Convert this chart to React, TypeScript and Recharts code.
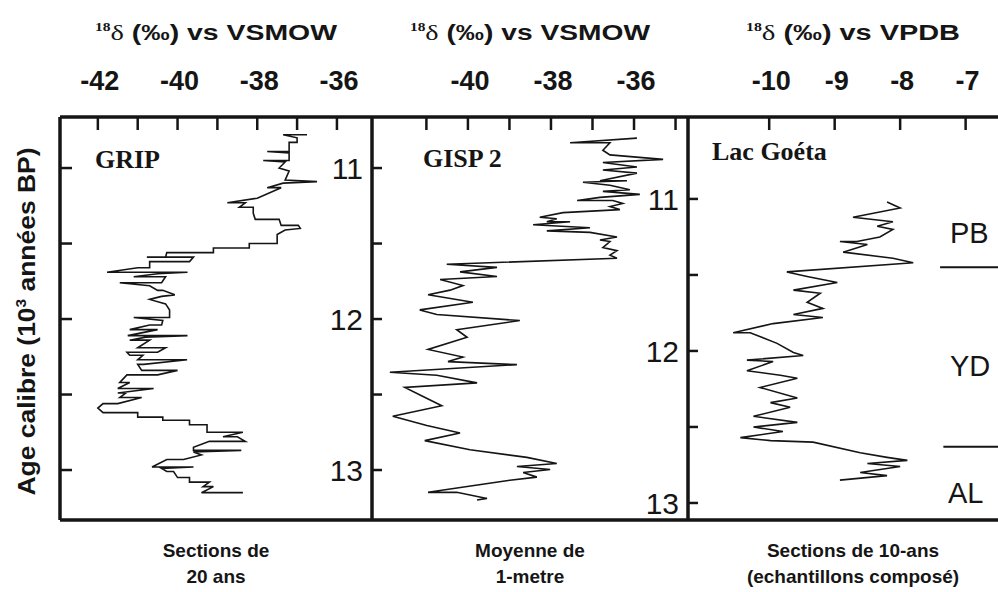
import React from 'react';
import { ScatterChart, Scatter, XAxis, YAxis, ReferenceLine } from 'recharts';

// GRIP, sections of 20 years (ages in 10^3 yr BP, d18O vs VSMOW)
const gripAge = [
  10.78, 10.78, 10.8, 10.83, 10.83, 10.89, 10.89, 10.9, 10.95, 10.95,
  10.96, 11.0, 11.02, 11.08, 11.09, 11.1, 11.13, 11.13, 11.2, 11.23,
  11.23, 11.26, 11.26, 11.3, 11.34, 11.34, 11.38, 11.38, 11.4, 11.41,
  11.44, 11.5, 11.5, 11.53, 11.53, 11.56, 11.56, 11.59, 11.59, 11.59,
  11.62, 11.62, 11.66, 11.66, 11.69, 11.69, 11.7, 11.72, 11.72, 11.76,
  11.76, 11.78, 11.81, 11.81, 11.84, 11.85, 11.87, 11.9, 11.94, 11.99,
  11.99, 12.01, 12.04, 12.04, 12.07, 12.07, 12.11, 12.11, 12.12, 12.14,
  12.14, 12.19, 12.19, 12.22, 12.22, 12.24, 12.24, 12.27, 12.27, 12.3,
  12.3, 12.34, 12.34, 12.37, 12.37, 12.42, 12.42, 12.46, 12.46, 12.49,
  12.49, 12.52, 12.52, 12.56, 12.56, 12.59, 12.62, 12.62, 12.65, 12.65,
  12.67, 12.67, 12.7, 12.7, 12.75, 12.75, 12.78, 12.78, 12.81, 12.81,
  12.85, 12.87, 12.87, 12.88, 12.9, 12.93, 12.93, 12.98, 12.98, 12.99,
  13.01, 13.01, 13.05, 13.05, 13.08, 13.08, 13.11, 13.11, 13.15, 13.15,
];
const gripD18O = [
  -36.75, -37.35, -37.0, -37.0, -37.2, -37.2, -37.75, -37.2, -37.2, -37.85,
  -37.3, -37.45, -37.2, -37.3, -36.5, -37.35, -37.75, -37.4, -38.0, -38.75,
  -38.3, -38.45, -38.1, -38.1, -38.05, -37.45, -37.4, -36.97, -36.92, -37.3,
  -37.5, -37.5, -38.2, -38.2, -39.1, -39.1, -40.27, -40.3, -40.77, -39.6,
  -39.7, -40.7, -40.7, -41.0, -41.77, -39.75, -40.5, -41.1, -40.3, -40.4,
  -41.45, -40.7, -40.5, -40.37, -40.07, -40.4, -40.7, -40.3, -40.2, -40.2,
  -41.1, -40.37, -40.4, -40.7, -41.2, -40.5, -41.25, -39.75, -40.8, -41.2,
  -40.7, -41.0, -40.3, -40.5, -41.27, -41.2, -40.87, -41.0, -39.76, -40.85,
  -41.0, -40.9, -40.0, -40.5, -41.27, -41.45, -41.2, -41.5, -40.6, -41.5,
  -41.3, -41.45, -40.9, -41.5, -41.87, -42.0, -41.87, -41.0, -41.0, -40.37,
  -40.37, -39.7, -39.7, -39.26, -39.26, -38.36, -38.86, -38.5, -38.3, -39.2,
  -39.6, -39.6, -38.4, -39.6, -39.4, -39.85, -40.27, -40.64, -39.6, -40.4,
  -40.27, -40.1, -40.0, -39.7, -39.7, -39.2, -39.36, -39.1, -39.4, -38.36,
];

// GISP 2, 1-metre means
const gispAge = [
  10.6, 10.63, 10.63, 10.68, 10.71, 10.74, 10.76, 10.79, 10.81, 10.83,
  10.88, 10.88, 10.89, 10.91, 10.94, 10.95, 10.97, 10.99, 11.01, 11.01,
  11.03, 11.05, 11.07, 11.09, 11.12, 11.13, 11.15, 11.15, 11.17, 11.19,
  11.21, 11.22, 11.25, 11.27, 11.28, 11.32, 11.34, 11.37, 11.39, 11.43,
  11.45, 11.48, 11.51, 11.53, 11.57, 11.6, 11.63, 11.68, 11.73, 11.76,
  11.8, 11.86, 11.91, 11.99, 12.04, 12.07, 12.09, 12.14, 12.16, 12.21,
  12.24, 12.3, 12.36, 12.43, 12.49, 12.54, 12.59, 12.65, 12.7, 12.74,
  12.76, 12.78, 12.8, 12.83, 12.85, 12.93, 12.93, 12.97, 12.98,
];
const gispD18O = [
  -35.93, -37.54, -36.58, -36.75, -36.58, -35.3, -36.75, -35.93, -36.75, -35.93,
  -36.82, -36.17, -37.23, -36.58, -36.1, -36.75, -35.86, -36.82, -37.37, -36.51,
  -36.27, -36.58, -36.34, -37.71, -38.27, -37.86, -38.1, -37.54, -38.43, -37.06,
  -38.1, -37.06, -36.41, -36.82, -36.58, -36.75, -36.41, -36.58, -36.41, -40.51,
  -39.3, -40.19, -39.3, -40.67, -40.12, -40.43, -40.96, -39.88, -41.16, -40.75,
  -38.75, -40.27, -40.02, -40.96, -40.12, -40.48, -38.82, -41.88, -40.75, -39.78,
  -41.52, -41.08, -40.63, -41.81, -40.99, -40.19, -41.04, -39.95, -38.58, -37.86,
  -38.82, -38.02, -38.67, -38.34, -38.99, -40.96, -40.27, -39.54, -39.78,
];

// Lac, 10-year composite samples (d18O vs VPDB)
const lacAge = [
  11.02, 11.06, 11.12, 11.15, 11.18, 11.2, 11.25, 11.28, 11.28, 11.3,
  11.35, 11.39, 11.42, 11.48, 11.51, 11.55, 11.6, 11.62, 11.68, 11.72,
  11.76, 11.78, 11.82, 11.88, 11.88, 11.95, 12.01, 12.03, 12.06, 12.07,
  12.13, 12.16, 12.18, 12.24, 12.31, 12.34, 12.37, 12.43, 12.47, 12.5,
  12.53, 12.57, 12.59, 12.6, 12.67, 12.7, 12.72, 12.74, 12.76, 12.8,
  12.82, 12.85,
];
const lacD18O = [
  -8.2, -8.0, -8.72, -8.11, -8.35, -8.11, -8.31, -8.66, -8.92, -8.5,
  -8.87, -8.11, -7.8, -9.73, -9.42, -8.96, -9.63, -9.22, -9.42, -9.18,
  -9.63, -9.18, -9.94, -10.55, -10.29, -9.88, -9.63, -9.48, -10.34, -9.94,
  -10.34, -9.83, -9.57, -10.14, -9.57, -9.98, -9.68, -10.24, -9.57, -10.24,
  -9.79, -10.44, -9.98, -9.33, -8.61, -8.2, -7.89, -8.5, -8.0, -8.61,
  -8.2, -8.92,
];

const gripTicks = [-42, -41, -40, -39, -38, -37, -36];
const gripTickLabels = [-42, -40, -38, -36];
const gispTicks = [-41, -40, -39, -38, -37, -36, -35];
const gispTickLabels = [-40, -38, -36];
const lacTicks = [-10, -9, -8, -7];
const lacTickLabels = [-10, -9, -8, -7];
const ageTicks = [11, 11.5, 12, 12.5, 13];
const ageTickLabels = [11, 12, 13];
const zoneBounds = [11.45, 12.63];

const FONT = '"Liberation Sans", Arial, sans-serif';
const SERIF = '"Liberation Serif", "Times New Roman", serif';
const INK = '#151515';

const PLOT_TOP = 117;
const LABEL_BASE = 90;

const zip = (ages: number[], vals: number[]) => ages.map((age, i) => ({ age, d: vals[i] }));
const gripData = zip(gripAge, gripD18O);
const gispData = zip(gispAge, gispD18O);
const lacData = zip(lacAge, lacD18O);

const frame = { stroke: INK, strokeWidth: 3.5 };
const curve = { stroke: INK, strokeWidth: 1.6, fill: 'none' };

const Blank = () => <g />;

// top axis: inward tick mark + label above the frame
const DeltaTick = ({ x, payload, labels }: any) => (
  <g>
    <line x1={x} x2={x} y1={PLOT_TOP} y2={PLOT_TOP + 13} stroke={INK} strokeWidth={2.5} />
    {labels.includes(payload.value) && (
      <text x={x + 2} y={LABEL_BASE} textAnchor="middle" fill={INK} fontFamily={FONT} fontWeight={700} fontSize={27}>
        {payload.value}
      </text>
    )}
  </g>
);

// right axis: outward tick mark, label inside the panel
const AgeTick = ({ y, payload, edge }: any) => (
  <g>
    <line x1={edge} x2={edge + 10} y1={y} y2={y} stroke={INK} strokeWidth={2.5} />
    {ageTickLabels.includes(payload.value) && (
      <text x={edge - 9} y={y} dy={11} textAnchor="end" fill={INK} fontFamily={FONT} fontSize={30}>
        {payload.value}
      </text>
    )}
  </g>
);

// left axis of first panel: inward ticks only
const InTick = ({ y, edge }: any) => (
  <line x1={edge} x2={edge + 12} y1={y} y2={y} stroke={INK} strokeWidth={2.5} />
);

const TopTitle = ({ viewBox, std, len }: any) => (
  <text
    x={viewBox.x + viewBox.width / 2}
    y={40}
    textAnchor="middle"
    fill={INK}
    fontFamily={FONT}
    fontWeight={700}
    fontSize={22}
    textLength={len}
    lengthAdjust="spacingAndGlyphs"
  >
    <tspan fontFamily={SERIF} fontSize={12} dy={-9}>18</tspan>
    <tspan fontFamily={SERIF} fontWeight={400} dy={9}>δ</tspan>
    <tspan>{' (‰) vs ' + std}</tspan>
  </text>
);

const Caption = ({ viewBox, lines }: any) => (
  <text textAnchor="middle" fill={INK} fontFamily={FONT} fontWeight={700} fontSize={19}>
    {lines.map((line: string, i: number) => (
      <tspan key={i} x={viewBox.x + viewBox.width / 2} y={557 + i * 26}>{line}</tspan>
    ))}
  </text>
);

const AgeTitle = ({ viewBox }: any) => {
  const x = 35;
  const y = viewBox.y + viewBox.height / 2 + 3;
  return (
    <text
      x={x}
      y={y}
      transform={`rotate(-90 ${x} ${y})`}
      textAnchor="middle"
      fill={INK}
      fontFamily={FONT}
      fontWeight={700}
      fontSize={24}
      textLength={348}
      lengthAdjust="spacingAndGlyphs"
    >
      Age calibre (10<tspan fontSize={14} dy={-9}>3</tspan><tspan dy={9}>{' années BP)'}</tspan>
    </text>
  );
};

const nameStyle = { fill: INK, fontFamily: SERIF, fontWeight: 700, fontSize: 26 };
const zoneStyle = { fill: INK, fontFamily: FONT, fontSize: 29 };

const CHART_H = 592;
const chartMargin = (left: number) => ({ top: 0, right: 0, bottom: 71, left });

export default function App() {
  const gripDomain: [number, number] = [-42.95, -35.12];
  const gispDomain: [number, number] = [-42.31, -34.7];
  const lacDomain: [number, number] = [-11.24, -6.2];
  const gripAgeDomain: [number, number] = [10.662, 13.331];
  const gispAgeDomain: [number, number] = [10.461, 13.112];

  return (
    <div style={{ position: 'absolute', left: 0, top: 0, width: 998, height: 592, overflow: 'hidden', background: '#fff' }}>
      {/* GRIP */}
      <div style={{ position: 'absolute', left: 0, top: 0 }}>
        <ScatterChart width={400} height={CHART_H} margin={chartMargin(59)}>
          <XAxis xAxisId="t" orientation="top" type="number" dataKey="d" domain={gripDomain} allowDataOverflow
            ticks={gripTicks} interval={0} height={PLOT_TOP} axisLine={frame} tickLine={false}
            tick={<DeltaTick labels={gripTickLabels} />} label={<TopTitle std="VSMOW" len={242} />} />
          <XAxis xAxisId="b" orientation="bottom" type="number" dataKey="d" domain={gripDomain} allowDataOverflow
            height={1} axisLine={frame} tickLine={false} tick={false}
            label={<Caption lines={['Sections de', '20 ans']} />} />
          <YAxis yAxisId="l" orientation="left" type="number" dataKey="age" domain={gripAgeDomain} allowDataOverflow reversed
            ticks={ageTicks} interval={0} width={1} axisLine={frame} tickLine={false} tick={<InTick edge={60} />}
            label={<AgeTitle />} />
          <YAxis yAxisId="r" orientation="right" type="number" dataKey="age" domain={gripAgeDomain} allowDataOverflow reversed
            ticks={ageTicks} interval={0} width={28} axisLine={frame} tickLine={false} tick={<AgeTick edge={372} />} />
          <Scatter xAxisId="t" yAxisId="r" data={gripData} line={curve} shape={Blank} isAnimationActive={false} />
          <text x={95} y={168} {...nameStyle}>GRIP</text>
        </ScatterChart>
      </div>

      {/* GISP 2 */}
      <div style={{ position: 'absolute', left: 342, top: 0 }}>
        <ScatterChart width={374} height={CHART_H} margin={chartMargin(30)}>
          <XAxis xAxisId="t" orientation="top" type="number" dataKey="d" domain={gispDomain} allowDataOverflow
            ticks={gispTicks} interval={0} height={PLOT_TOP} axisLine={frame} tickLine={false}
            tick={<DeltaTick labels={gispTickLabels} />} label={<TopTitle std="VSMOW" len={240} />} />
          <XAxis xAxisId="b" orientation="bottom" type="number" dataKey="d" domain={gispDomain} allowDataOverflow
            height={1} axisLine={frame} tickLine={false} tick={false}
            label={<Caption lines={['Moyenne de', '1-metre']} />} />
          <YAxis yAxisId="r" orientation="right" type="number" dataKey="age" domain={gispAgeDomain} allowDataOverflow reversed
            ticks={ageTicks} interval={0} width={28} axisLine={frame} tickLine={false} tick={<AgeTick edge={346} />} />
          <Scatter xAxisId="t" yAxisId="r" data={gispData} line={curve} shape={Blank} isAnimationActive={false} />
          <text x={81} y={167} {...nameStyle}>GISP 2</text>
        </ScatterChart>
      </div>

      {/* Lac */}
      <div style={{ position: 'absolute', left: 658, top: 0 }}>
        <ScatterChart width={360} height={CHART_H} margin={chartMargin(30)}>
          <XAxis xAxisId="t" orientation="top" type="number" dataKey="d" domain={lacDomain} allowDataOverflow
            ticks={lacTicks} interval={0} height={PLOT_TOP} axisLine={frame} tickLine={false}
            tick={<DeltaTick labels={lacTickLabels} />} label={<TopTitle std="VPDB" len={214} />} />
          <XAxis xAxisId="b" orientation="bottom" type="number" dataKey="d" domain={lacDomain} allowDataOverflow
            height={1} axisLine={frame} tickLine={false} tick={false}
            label={<Caption lines={['Sections de 10-ans', '(echantillons composé)']} />} />
          <YAxis yAxisId="r" orientation="right" type="number" dataKey="age" domain={gispAgeDomain} allowDataOverflow reversed hide />
          {zoneBounds.map((age, i) => (
            <ReferenceLine key={i} xAxisId="t" yAxisId="r" ifOverflow="visible"
              segment={[{ x: i === 0 ? -7.39 : -7.34, y: age }, { x: -6.2, y: age }]}
              stroke={INK} strokeWidth={2} />
          ))}
          <Scatter xAxisId="t" yAxisId="r" data={lacData} line={curve} shape={Blank} isAnimationActive={false} />
          <text x={54} y={160} {...nameStyle}>Lac Goéta</text>
          <text x={292} y={243} {...zoneStyle}>PB</text>
          <text x={292} y={376} {...zoneStyle}>YD</text>
          <text x={290} y={503} {...zoneStyle}>AL</text>
        </ScatterChart>
      </div>
    </div>
  );
}
